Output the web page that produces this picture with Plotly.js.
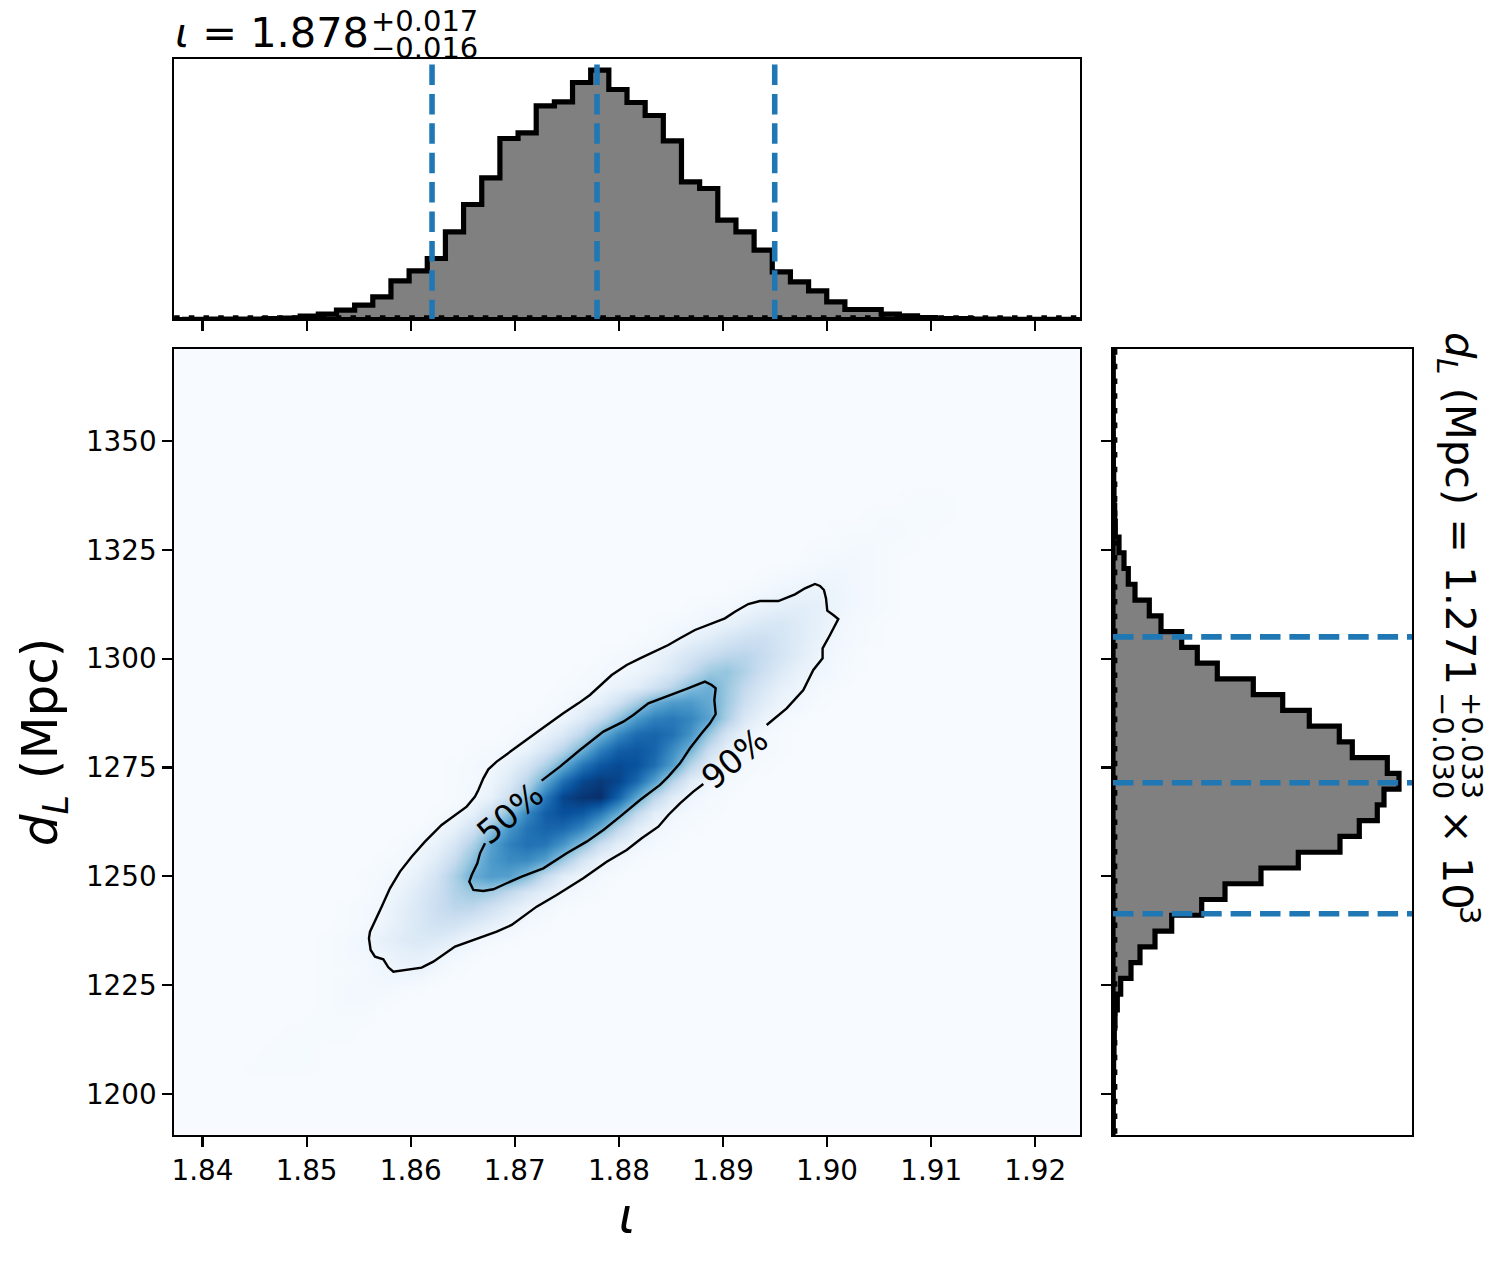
<!DOCTYPE html>
<html>
<head>
<meta charset="utf-8">
<script src="https://cdn.plot.ly/plotly-3.0.1.min.js"></script>
<style>html,body{margin:0;padding:0;background:#fff}</style>
</head>
<body>
<div id="chart" style="width:1502px;height:1263px"></div>
<script>
const iotaBinRange = [1.83717, 1.92439];
const distBinRange = [1190.35, 1371.4];
const iotaView = [1.83727, 1.92429];
const distView = [1190.59, 1371.11];
const binCount = 50;

const xTicks = [1.84, 1.85, 1.86, 1.87, 1.88, 1.89, 1.90, 1.91, 1.92];
const xTickLabels = ['1.84', '1.85', '1.86', '1.87', '1.88', '1.89', '1.90', '1.91', '1.92'];
const yTicks = [1200, 1225, 1250, 1275, 1300, 1325, 1350];
const yTickLabels = ['1200', '1225', '1250', '1275', '1300', '1325', '1350'];

const iotaHist = [0.2,0.2,0.3,0.5,0.5,0.8,1.5,3.3,5.3,9.3,14.3,22.7,38.7,48.7,61,87.7,115,141.7,181,186.7,
  213.7,217.7,237,249.3,230,217,204,178.7,137.7,131,99.3,87.7,69.3,47.7,37.7,28.7,17.7,10,10,5.3,
  3.7,2,1,0.8,0.5,0.3,0.2,0.2,0.2,0.2];
const distHist = [0.1,0.2,0.2,0.3,0.6,1,1.3,2,4.3,7.7,18,27,42,58.7,88.7,112,148,185.3,227,246.3,
  264.3,271,286,274.3,239.3,226.3,196.3,169.7,140.3,104.3,84.3,68.7,48,36.3,22,15.3,11,6,2.3,1.7,
  1,0.7,0.4,0.3,0.2,0.2,0.1,0.1,0.1,0.1];

const iotaQuantiles = [1.86205, 1.8779, 1.89497];
const distQuantiles = [1241.4, 1271.5, 1305.0];

// density rows: [row, first column, values...] (0-100)
const densityRows = [
 [4,4,1,1,1,1],[5,5,1,1,1],[6,6,1,1,1,1],[7,7,1,1,1,1],
 [8,8,1,2,2,1],[9,8,1,2,3,3,2,1],
 [10,8,1,1,2,4,5,6,3,1],
 [11,8,1,2,3,5,8,9,6,3,1],
 [12,8,1,2,4,8,12,14,13,9,4,2,1],
 [13,9,1,2,5,10,15,20,19,14,9,5,2,1],
 [14,9,1,2,4,9,15,22,28,27,20,12,6,3,1],
 [15,10,1,3,7,13,21,31,38,35,26,16,9,4,2,1],
 [16,10,1,2,4,9,18,33,51,58,56,44,24,10,4,2,1],
 [17,11,1,2,5,12,24,43,59,65,65,56,37,17,6,3,1],
 [18,12,1,3,7,16,33,56,69,75,73,61,42,22,9,4,2,1],
 [19,13,1,3,8,19,40,61,74,80,78,68,50,27,11,4,2,1],
 [20,14,1,3,9,22,44,67,82,88,84,72,52,26,10,4,2,1],
 [21,15,1,3,8,21,43,72,92,98,100,81,55,28,11,4,2,1],
 [22,15,1,2,5,13,29,53,76,91,96,92,79,57,30,11,4,2,1],
 [23,15,1,2,3,8,17,32,52,73,85,90,87,76,58,30,11,3,2,1],
 [24,16,1,2,3,7,16,30,50,70,82,85,80,65,48,22,8,3,2,1],
 [25,18,1,3,7,14,28,48,66,77,80,75,62,38,17,6,2,1],
 [26,19,1,2,5,12,24,41,59,69,72,67,55,33,14,6,2,1],
 [27,20,1,2,5,9,19,34,50,58,59,52,37,21,11,5,3,1],
 [28,21,1,2,4,7,11,19,29,43,50,38,25,15,8,5,2,1],
 [29,22,1,2,3,5,9,15,25,37,40,31,21,13,7,4,2,1],
 [30,23,1,2,3,6,11,17,23,28,29,24,17,11,5,3,1],
 [31,25,1,2,4,8,12,17,21,22,17,12,7,3,2,1],
 [32,26,1,2,3,5,8,12,15,16,12,8,4,2,1],
 [33,28,1,2,3,5,8,10,11,9,5,3,2,1],
 [34,30,1,2,3,5,6,7,5,3,2,1],
 [35,32,1,2,3,4,4,3,2,1],
 [36,34,1,2,3,3,2,1],
 [37,35,1,1,2,2,1,1],
 [38,36,1,1,1,2,1,1],
 [39,38,1,1,1,1,1],
 [40,40,1,1,1]
];

const outerIota = [1.89420,1.89612,1.89772,1.89836,1.89868,1.89957,1.89957,1.90028,1.90108,1.90060,1.90002,1.89990,1.89970,1.89932,1.89884,1.89788,1.89692,1.89532,1.89355,1.89243,1.89115,1.89019,1.88731,1.88587,1.88475,1.88203,1.88075,1.87931,1.87834,1.87722,1.87610,1.87466,1.87242,1.87066,1.86954,1.86826,1.86746,1.86698,1.86650,1.86618,1.86538,1.86394,1.86297,1.86137,1.86009,1.85897,1.85801,1.85721,1.85657,1.85609,1.85599,1.85615,1.85657,1.85737,1.85785,1.85833,1.86105,1.86217,1.86426,1.86666,1.86826,1.86970,1.87082,1.87210,1.87402,1.87658,1.87883,1.88075,1.88219,1.88379,1.88475,1.88587,1.88715,1.88811];
const outerDist = [1284.76,1288.59,1292.80,1295.86,1297.39,1300.07,1302.37,1305.43,1309.11,1310.03,1311.02,1313.85,1315.77,1316.69,1317.15,1316.15,1314.77,1313.24,1313.24,1312.55,1310.79,1309.26,1306.58,1304.67,1303.13,1300.07,1298.54,1296.24,1294.18,1291.65,1289.73,1287.44,1283.61,1280.55,1278.63,1276.34,1274.57,1272.51,1269.83,1268.30,1266.00,1263.55,1261.79,1257.96,1254.51,1251.07,1247.24,1243.03,1239.58,1237.28,1235.75,1233.07,1231.54,1230.93,1229.09,1228.10,1229.01,1230.39,1233.84,1235.91,1237.28,1238.82,1240.73,1243.03,1245.71,1249.54,1253.36,1256.04,1258.72,1261.40,1264.08,1266.76,1269.44,1271.20];
const innerIota = [1.87258,1.87434,1.87626,1.87851,1.88043,1.88139,1.88283,1.88475,1.88651,1.88827,1.88891,1.88930,1.88917,1.88930,1.88875,1.88795,1.88683,1.88587,1.88475,1.88395,1.88203,1.88011,1.87851,1.87690,1.87498,1.87274,1.87066,1.86906,1.86794,1.86698,1.86602,1.86563,1.86586,1.86640,1.86666,1.86714];
const innerDist = [1271.97,1275.19,1279.02,1283.23,1285.52,1287.05,1289.73,1291.42,1293.03,1294.71,1293.95,1293.18,1290.50,1287.28,1285.14,1282.84,1279.40,1275.95,1272.89,1270.98,1267.53,1263.70,1260.64,1257.96,1255.28,1251.83,1249.92,1248.23,1247.01,1246.63,1246.86,1248.77,1250.30,1252.98,1255.28,1257.58];

const BLUES = [[0,'#f7fbff'],[0.125,'#deebf7'],[0.25,'#c6dbef'],[0.375,'#9ecae1'],[0.5,'#6baed6'],[0.625,'#4292c6'],[0.75,'#2171b5'],[0.875,'#08519c'],[1,'#08306b']];
const FONT = '"DejaVu Sans", sans-serif';
const QBLUE = '#1f77b4';
const W = 1502, H = 1263;

const centres = (r) => Array.from({length: binCount}, (_, i) => r[0] + (i + 0.5) * (r[1] - r[0]) / binCount);
const iotaCentres = centres(iotaBinRange);
const distCentres = centres(distBinRange);

const z = Array.from({length: binCount}, () => new Array(binCount).fill(0));
densityRows.forEach(([row, first, ...vals]) => vals.forEach((v, k) => { z[row][first + k] = v; }));

const px = (x) => x / W;
const py = (y) => 1 - y / H;

const blueDash = '20.5px,8.9px';
const dotDash = '5.55px,9.15px';
const histTop = 255, histRightEnd = 301;

const traces = [
  {type:'heatmap', x:iotaCentres, y:distCentres, z:z, zmin:0, zmax:100, colorscale:BLUES, showscale:false, zsmooth:'best', xaxis:'x', yaxis:'y', hoverinfo:'skip'},
  {type:'scatter', mode:'lines', x:outerIota, y:outerDist, line:{color:'#000', width:2.4}, xaxis:'x', yaxis:'y', showlegend:false},
  {type:'scatter', mode:'lines', x:innerIota, y:innerDist, line:{color:'#000', width:2.4}, xaxis:'x', yaxis:'y', showlegend:false},
  {type:'scatter', mode:'lines', x:iotaCentres, y:iotaHist, fill:'tozeroy', fillcolor:'#808080', line:{color:'#000', width:5.2, shape:'hvh'}, xaxis:'x2', yaxis:'y2', showlegend:false},
  {type:'scatter', mode:'lines', x:iotaView, y:[0,0], line:{color:'#000', width:5.2}, xaxis:'x2', yaxis:'y2', showlegend:false},
  {type:'scatter', mode:'lines', x:iotaView, y:[1.6,1.6], line:{color:'#000', width:5.55, dash:dotDash}, xaxis:'x2', yaxis:'y2', showlegend:false},
  {type:'scatter', mode:'lines', x:distHist, y:distCentres, fill:'tozerox', fillcolor:'#808080', line:{color:'#000', width:5.2, shape:'vhv'}, xaxis:'x3', yaxis:'y3', showlegend:false},
  {type:'scatter', mode:'lines', x:[0,0], y:distView, line:{color:'#000', width:5.2}, xaxis:'x3', yaxis:'y3', showlegend:false},
  {type:'scatter', mode:'lines', x:[1.6,1.6], y:[distView[1],distView[0]], line:{color:'#000', width:5.55, dash:dotDash}, xaxis:'x3', yaxis:'y3', showlegend:false}
];
iotaQuantiles.forEach(q => traces.push({type:'scatter', mode:'lines', x:[q,q], y:[histTop,0], line:{color:QBLUE, width:5.55, dash:blueDash}, xaxis:'x2', yaxis:'y2', showlegend:false}));
distQuantiles.forEach(q => traces.push({type:'scatter', mode:'lines', x:[0,histRightEnd], y:[q,q], line:{color:QBLUE, width:5.55, dash:blueDash}, xaxis:'x3', yaxis:'y3', showlegend:false}));

const frame = {showline:true, mirror:true, linecolor:'#000', linewidth:2.2, zeroline:false, showgrid:false, ticklen:9.7, tickwidth:2.2, tickcolor:'#000'};
const tickFont = {family:FONT, size:27.8, color:'#000'};
const note = (text, x, y, size, angle, xanchor) => ({text, xref:'paper', yref:'paper', x:px(x), y:py(y), showarrow:false, font:{family:FONT, size, color:'#000'}, textangle:angle||0, xanchor:xanchor||'center', yanchor:'middle'});

const layout = {
  width:W, height:H, margin:{l:0,r:0,t:0,b:0}, autosize:false, showlegend:false,
  paper_bgcolor:'#fff', plot_bgcolor:'#fff', font:{family:FONT, color:'#000'},
  xaxis:Object.assign({}, frame, {domain:[px(174.1),px(1079.9)], range:iotaView, anchor:'y', tickmode:'array', tickvals:xTicks, ticktext:xTickLabels, ticks:'outside', tickfont:tickFont, ticklabelstandoff:0,
    title:{text:'<i>ι</i>', font:{family:FONT, size:50, color:'#000'}, standoff:12}}),
  yaxis:Object.assign({}, frame, {domain:[py(1134.9),py(349.1)], range:distView, anchor:'x', tickmode:'array', tickvals:yTicks, ticktext:yTickLabels, ticks:'outside', tickfont:tickFont, ticklabelstandoff:0,
    title:{text:'<i>d</i><sub><i>L</i></sub> (Mpc)', font:{family:FONT, size:50, color:'#000'}, standoff:12}}),
  xaxis2:Object.assign({}, frame, {domain:[px(174.1),px(1079.9)], range:iotaView, anchor:'y2', tickmode:'array', tickvals:xTicks, ticks:'outside', showticklabels:false}),
  yaxis2:Object.assign({}, frame, {domain:[py(318.9),py(59.1)], range:[0.6,260.4], anchor:'x2', ticks:'', showticklabels:false}),
  xaxis3:Object.assign({}, frame, {domain:[px(1113.1),px(1411.9)], range:[0.1,298.9], anchor:'y3', ticks:'', showticklabels:false}),
  yaxis3:Object.assign({}, frame, {domain:[py(1134.9),py(349.1)], range:distView, anchor:'x3', tickmode:'array', tickvals:yTicks, ticks:'outside', showticklabels:false}),
  annotations:[
    {text:'50%', xref:'x', yref:'y', x:1.86954, y:1264.5, showarrow:false, textangle:-40, font:{family:FONT, size:33.3, color:'#000'}},
    {text:'90%', xref:'x', yref:'y', x:1.89115, y:1277, showarrow:false, textangle:-40, font:{family:FONT, size:33.3, color:'#000'}},
    note('<i>ι</i> = 1.878', 173, 32, 41.5, 0, 'left'),
    note('+0.017', 369, 21, 29, 0, 'left'),
    note('−0.016', 369, 48, 29, 0, 'left'),
    note('<i>d</i><sub><i>L</i></sub> (Mpc) = 1.271', 1457, 508, 41.5, 90),
    note('+0.033', 1472, 745, 29, 90),
    note('−0.030', 1443, 745, 29, 90),
    note('× 10', 1458, 859, 41.5, 90),
    note('3', 1470, 915, 29, 90)
  ]
};

Plotly.newPlot('chart', traces, layout, {displayModeBar:false, staticPlot:true});
</script>
</body>
</html>
